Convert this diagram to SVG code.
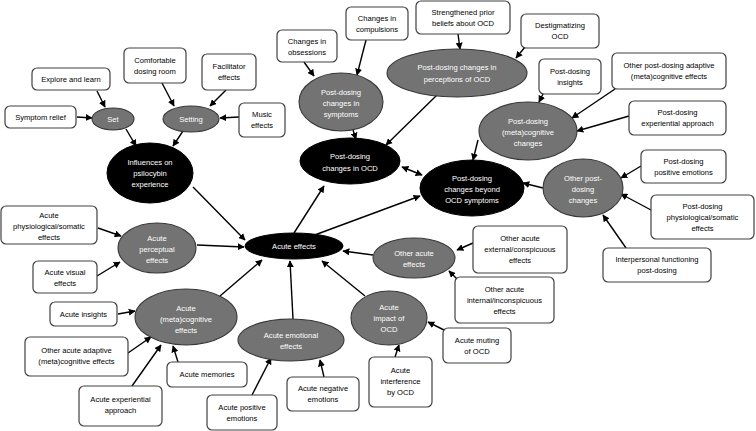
<svg xmlns="http://www.w3.org/2000/svg" width="756" height="431" viewBox="0 0 756 431">
<style>
text{font-family:"Liberation Sans",Arial,sans-serif;font-size:7.6px;text-anchor:middle}
.box rect{fill:#fff;stroke:#404040;stroke-width:1.2}
.box text{fill:#000}
.g ellipse{fill:#737373;stroke:#383838;stroke-width:1.1}
.b ellipse{fill:#000;stroke:#000;stroke-width:1}
.g text,.b text{fill:#fff}
#connectors line{stroke:#000;stroke-width:1.4;marker-end:url(#ah)}
</style>
<defs>
<marker id="ah" viewBox="0 0 10 10" refX="9" refY="5" markerWidth="7" markerHeight="7" markerUnits="userSpaceOnUse" orient="auto-start-reverse"><path d="M0,0 L10,5 L0,10 z" fill="#000"/></marker>
</defs>
<rect width="756" height="431" fill="#fff"/>

<g id="connectors">
<line x1="97" y1="91" x2="105" y2="107"/>
<line x1="77" y1="117" x2="92" y2="118"/>
<line x1="162" y1="83" x2="174" y2="106"/>
<line x1="226" y1="90" x2="210" y2="106"/>
<line x1="239" y1="117" x2="220" y2="118"/>
<line x1="126" y1="129" x2="136" y2="146"/>
<line x1="183" y1="131" x2="173" y2="146"/>
<line x1="304" y1="62" x2="314" y2="76"/>
<line x1="366" y1="40" x2="357" y2="75"/>
<line x1="458" y1="34" x2="460" y2="49"/>
<line x1="525" y1="47" x2="516" y2="58"/>
<line x1="353" y1="130" x2="356" y2="139"/>
<line x1="437" y1="95" x2="386" y2="145"/>
<line x1="543" y1="94" x2="539" y2="102"/>
<line x1="615" y1="89" x2="572" y2="118"/>
<line x1="629" y1="116" x2="577" y2="131"/>
<line x1="478" y1="140" x2="473" y2="160"/>
<line x1="543" y1="188" x2="523" y2="183"/>
<line x1="641" y1="166" x2="621" y2="178"/>
<line x1="651" y1="210" x2="621" y2="194"/>
<line x1="626" y1="248" x2="603" y2="215"/>
<line x1="402" y1="167" x2="422" y2="175" marker-start="url(#ah)"/>
<line x1="294" y1="233" x2="324" y2="186"/>
<line x1="312" y1="236" x2="420" y2="196"/>
<line x1="193" y1="187" x2="245" y2="240"/>
<line x1="197" y1="245" x2="244" y2="247"/>
<line x1="98" y1="228" x2="121" y2="236"/>
<line x1="97" y1="276" x2="120" y2="262"/>
<line x1="220" y1="296" x2="262" y2="260"/>
<line x1="293" y1="319" x2="290" y2="261"/>
<line x1="365" y1="296" x2="322" y2="261"/>
<line x1="373" y1="255" x2="343" y2="251"/>
<line x1="473" y1="243" x2="457" y2="250"/>
<line x1="458" y1="280" x2="449" y2="271"/>
<line x1="118" y1="314" x2="135" y2="311"/>
<line x1="128" y1="353" x2="151" y2="337"/>
<line x1="132" y1="386" x2="161" y2="345"/>
<line x1="178" y1="362" x2="173" y2="346"/>
<line x1="252" y1="395" x2="271" y2="358"/>
<line x1="324" y1="377" x2="320" y2="360"/>
<line x1="395" y1="357" x2="399" y2="345"/>
<line x1="444" y1="330" x2="428" y2="322"/>
</g>

<!-- boxes -->
<g id="explore" class="box"><rect x="32" y="68" width="78" height="22" rx="5"/><text x="71" y="82">Explore and learn</text></g>
<g id="symptom-relief" class="box"><rect x="5" y="106" width="71" height="22" rx="5"/><text x="40.5" y="120">Symptom relief</text></g>
<g id="comfortable" class="box"><rect x="124" y="48" width="62" height="35" rx="5"/><text x="155" y="63">Comfortable</text><text x="155" y="74">dosing room</text></g>
<g id="facilitator" class="box"><rect x="202" y="54" width="54" height="36" rx="5"/><text x="229" y="69">Facilitator</text><text x="229" y="80">effects</text></g>
<g id="music" class="box"><rect x="239" y="103" width="46" height="34" rx="5"/><text x="262" y="117">Music</text><text x="262" y="128">effects</text></g>
<g id="obsessions" class="box"><rect x="277" y="30" width="60" height="32" rx="5"/><text x="307" y="44">Changes in</text><text x="307" y="55">obsessions</text></g>
<g id="compulsions" class="box"><rect x="346" y="7" width="62" height="33" rx="5"/><text x="377" y="21">Changes in</text><text x="377" y="32">compulsions</text></g>
<g id="strengthened" class="box"><rect x="416" y="1" width="94" height="33" rx="5"/><text x="463" y="15">Strengthened prior</text><text x="463" y="26">beliefs about OCD</text></g>
<g id="destigmatizing" class="box"><rect x="521" y="14" width="78" height="34" rx="5"/><text x="560" y="28">Destigmatizing</text><text x="560" y="39">OCD</text></g>
<g id="pd-insights" class="box"><rect x="539" y="59" width="62" height="35" rx="5"/><text x="570" y="74">Post-dosing</text><text x="570" y="85">insights</text></g>
<g id="pd-adaptive" class="box"><rect x="612" y="53" width="114" height="36" rx="5"/><text x="669" y="68">Other post-dosing adaptive</text><text x="669" y="79">(meta)cognitive effects</text></g>
<g id="pd-experiential" class="box"><rect x="629" y="101" width="97" height="34" rx="5"/><text x="677.5" y="115">Post-dosing</text><text x="677.5" y="126">experiential approach</text></g>
<g id="pd-positive" class="box"><rect x="641" y="150" width="85" height="33" rx="5"/><text x="683.5" y="164">Post-dosing</text><text x="683.5" y="175">positive emotions</text></g>
<g id="pd-physio" class="box"><rect x="651" y="195" width="103" height="44" rx="5"/><text x="702.5" y="209">Post-dosing</text><text x="702.5" y="220">physiological/somatic</text><text x="702.5" y="231">effects</text></g>
<g id="interpersonal" class="box"><rect x="603" y="248" width="108" height="34" rx="5"/><text x="657" y="262">Interpersonal functioning</text><text x="657" y="273">post-dosing</text></g>
<g id="acute-physio" class="box"><rect x="1" y="206" width="96" height="38" rx="5"/><text x="49" y="218">Acute</text><text x="49" y="229">physiological/somatic</text><text x="49" y="240">effects</text></g>
<g id="acute-visual" class="box"><rect x="33" y="261" width="64" height="32" rx="5"/><text x="65" y="275">Acute visual</text><text x="65" y="286">effects</text></g>
<g id="acute-insights" class="box"><rect x="50" y="302" width="67" height="24" rx="5"/><text x="83.5" y="316.5">Acute insights</text></g>
<g id="acute-adaptive" class="box"><rect x="25" y="337" width="103" height="39" rx="5"/><text x="76.5" y="353">Other acute adaptive</text><text x="76.5" y="364">(meta)cognitive effects</text></g>
<g id="acute-experiential" class="box"><rect x="79" y="386" width="83" height="40" rx="5"/><text x="120.5" y="402">Acute experiential</text><text x="120.5" y="413">approach</text></g>
<g id="acute-memories" class="box"><rect x="167" y="362" width="80" height="25" rx="5"/><text x="207" y="377">Acute memories</text></g>
<g id="acute-positive" class="box"><rect x="207" y="395" width="70" height="35" rx="5"/><text x="242" y="410">Acute positive</text><text x="242" y="421">emotions</text></g>
<g id="acute-negative" class="box"><rect x="287" y="377" width="72" height="34" rx="5"/><text x="323" y="391">Acute negative</text><text x="323" y="402">emotions</text></g>
<g id="acute-interference" class="box"><rect x="369" y="357" width="63" height="50" rx="5"/><text x="400.5" y="373">Acute</text><text x="400.5" y="384">interference</text><text x="400.5" y="395">by OCD</text></g>
<g id="acute-muting" class="box"><rect x="443" y="328" width="68" height="35" rx="5"/><text x="477" y="343">Acute muting</text><text x="477" y="354">of OCD</text></g>
<g id="acute-external" class="box"><rect x="473" y="226" width="94" height="47" rx="5"/><text x="520" y="241">Other acute</text><text x="520" y="252">external/conspicuous</text><text x="520" y="263">effects</text></g>
<g id="acute-internal" class="box"><rect x="455" y="277" width="99" height="46" rx="5"/><text x="504.5" y="292">Other acute</text><text x="504.5" y="303">internal/inconspicuous</text><text x="504.5" y="314">effects</text></g>

<!-- ellipses -->
<g id="set" class="g"><ellipse cx="113" cy="119" rx="21" ry="11"/><text x="113" y="122">Set</text></g>
<g id="setting" class="g"><ellipse cx="191" cy="119" rx="28" ry="13"/><text x="191" y="122">Setting</text></g>
<g id="influences" class="b"><ellipse cx="150" cy="173" rx="43" ry="30"/><text x="150" y="165">Influences on</text><text x="150" y="176">psilocybin</text><text x="150" y="187">experience</text></g>
<g id="pd-symptoms" class="g"><ellipse cx="341" cy="102" rx="42" ry="29"/><text x="341" y="95">Post-dosing</text><text x="341" y="106">changes in</text><text x="341" y="117">symptoms</text></g>
<g id="pd-perceptions" class="g"><ellipse cx="457" cy="73" rx="70" ry="24"/><text x="457" y="70">Post-dosing changes in</text><text x="457" y="82">perceptions of OCD</text></g>
<g id="pd-ocd" class="b"><ellipse cx="350" cy="161" rx="50" ry="23"/><text x="350" y="159">Post-dosing</text><text x="350" y="171">changes in OCD</text></g>
<g id="pd-metacog" class="g"><ellipse cx="528" cy="131" rx="49" ry="29"/><text x="528" y="124">Post-dosing</text><text x="528" y="135">(meta)cognitive</text><text x="528" y="146">changes</text></g>
<g id="pd-beyond" class="b"><ellipse cx="472" cy="188" rx="52" ry="28"/><text x="472" y="181">Post-dosing</text><text x="472" y="192">changes beyond</text><text x="472" y="203">OCD symptoms</text></g>
<g id="pd-other" class="g"><ellipse cx="583" cy="188" rx="40" ry="29"/><text x="583" y="181">Other post-</text><text x="583" y="192">dosing</text><text x="583" y="203">changes</text></g>
<g id="acute-effects" class="b"><ellipse cx="294" cy="246" rx="49" ry="13"/><text x="294" y="249">Acute effects</text></g>
<g id="acute-perceptual" class="g"><ellipse cx="157" cy="248" rx="39" ry="25"/><text x="157" y="241">Acute</text><text x="157" y="252">perceptual</text><text x="157" y="263">effects</text></g>
<g id="acute-metacog" class="g"><ellipse cx="186" cy="317" rx="51" ry="28"/><text x="186" y="311">Acute</text><text x="186" y="322">(meta)cognitive</text><text x="186" y="333">effects</text></g>
<g id="acute-emotional" class="g"><ellipse cx="291" cy="340" rx="53" ry="21"/><text x="291" y="338">Acute emotional</text><text x="291" y="349">effects</text></g>
<g id="acute-impact" class="g"><ellipse cx="389" cy="318" rx="38" ry="27"/><text x="389" y="310">Acute</text><text x="389" y="321">impact of</text><text x="389" y="332">OCD</text></g>
<g id="other-acute" class="g"><ellipse cx="414" cy="258" rx="41" ry="20"/><text x="414" y="256">Other acute</text><text x="414" y="267">effects</text></g>
</svg>
